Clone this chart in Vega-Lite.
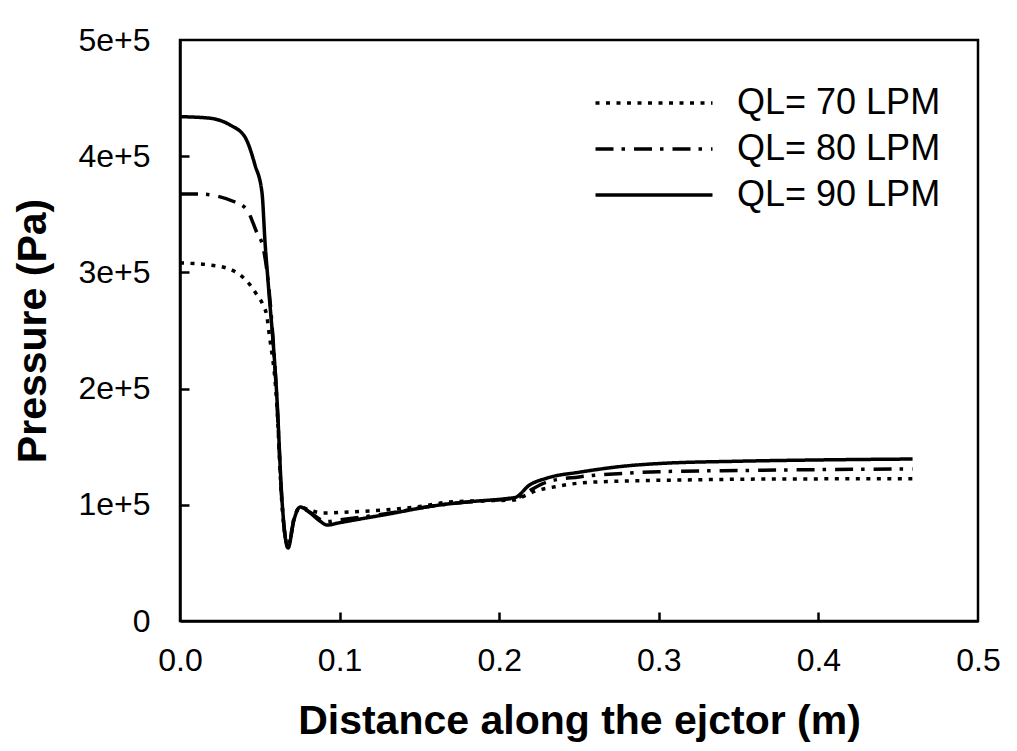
{
  "$schema": "https://vega.github.io/schema/vega-lite/v6.json",
  "width": 798,
  "height": 581,
  "autosize": {"type": "none"},
  "padding": {"left": 180, "top": 40, "right": 39, "bottom": 130},
  "background": "white",
  "config": {
    "view": {"stroke": "black", "strokeWidth": 2.5},
    "font": "Liberation Sans"
  },
  "data": {
    "values": [
      {"series": "QL= 90 LPM", "x": 0.0, "y": 434000},
      {"series": "QL= 90 LPM", "x": 0.0175, "y": 432900},
      {"series": "QL= 90 LPM", "x": 0.0313, "y": 426900},
      {"series": "QL= 90 LPM", "x": 0.0407, "y": 416500},
      {"series": "QL= 90 LPM", "x": 0.047, "y": 392400},
      {"series": "QL= 90 LPM", "x": 0.0514, "y": 368300},
      {"series": "QL= 90 LPM", "x": 0.0533, "y": 325300},
      {"series": "QL= 90 LPM", "x": 0.0551, "y": 293500},
      {"series": "QL= 90 LPM", "x": 0.0608, "y": 190200},
      {"series": "QL= 90 LPM", "x": 0.0639, "y": 104100},
      {"series": "QL= 90 LPM", "x": 0.0677, "y": 62800},
      {"series": "QL= 90 LPM", "x": 0.0714, "y": 87000},
      {"series": "QL= 90 LPM", "x": 0.0752, "y": 98100},
      {"series": "QL= 90 LPM", "x": 0.0815, "y": 93000},
      {"series": "QL= 90 LPM", "x": 0.0877, "y": 86000},
      {"series": "QL= 90 LPM", "x": 0.0921, "y": 82600},
      {"series": "QL= 90 LPM", "x": 0.1, "y": 84600},
      {"series": "QL= 90 LPM", "x": 0.13, "y": 91900},
      {"series": "QL= 90 LPM", "x": 0.16, "y": 99300},
      {"series": "QL= 90 LPM", "x": 0.18, "y": 102500},
      {"series": "QL= 90 LPM", "x": 0.205, "y": 105400},
      {"series": "QL= 90 LPM", "x": 0.21, "y": 106300},
      {"series": "QL= 90 LPM", "x": 0.219, "y": 117000},
      {"series": "QL= 90 LPM", "x": 0.23, "y": 123000},
      {"series": "QL= 90 LPM", "x": 0.251, "y": 128200},
      {"series": "QL= 90 LPM", "x": 0.28, "y": 133500},
      {"series": "QL= 90 LPM", "x": 0.3, "y": 135500},
      {"series": "QL= 90 LPM", "x": 0.35, "y": 137500},
      {"series": "QL= 90 LPM", "x": 0.4, "y": 138600},
      {"series": "QL= 90 LPM", "x": 0.459, "y": 139400},

      {"series": "QL= 80 LPM", "x": 0.0, "y": 367500},
      {"series": "QL= 80 LPM", "x": 0.0113, "y": 367500},
      {"series": "QL= 80 LPM", "x": 0.0345, "y": 360600},
      {"series": "QL= 80 LPM", "x": 0.042, "y": 353700},
      {"series": "QL= 80 LPM", "x": 0.0482, "y": 334000},
      {"series": "QL= 80 LPM", "x": 0.052, "y": 322000},
      {"series": "QL= 80 LPM", "x": 0.0551, "y": 294000},
      {"series": "QL= 80 LPM", "x": 0.0607, "y": 190000},
      {"series": "QL= 80 LPM", "x": 0.0638, "y": 104000},
      {"series": "QL= 80 LPM", "x": 0.0677, "y": 63500},
      {"series": "QL= 80 LPM", "x": 0.0714, "y": 87500},
      {"series": "QL= 80 LPM", "x": 0.0752, "y": 98000},
      {"series": "QL= 80 LPM", "x": 0.0815, "y": 93500},
      {"series": "QL= 80 LPM", "x": 0.0877, "y": 87500},
      {"series": "QL= 80 LPM", "x": 0.0921, "y": 85500},
      {"series": "QL= 80 LPM", "x": 0.1, "y": 87000},
      {"series": "QL= 80 LPM", "x": 0.13, "y": 92500},
      {"series": "QL= 80 LPM", "x": 0.16, "y": 99300},
      {"series": "QL= 80 LPM", "x": 0.18, "y": 102300},
      {"series": "QL= 80 LPM", "x": 0.205, "y": 105000},
      {"series": "QL= 80 LPM", "x": 0.211, "y": 106000},
      {"series": "QL= 80 LPM", "x": 0.22, "y": 113000},
      {"series": "QL= 80 LPM", "x": 0.23, "y": 119600},
      {"series": "QL= 80 LPM", "x": 0.25, "y": 124000},
      {"series": "QL= 80 LPM", "x": 0.282, "y": 127400},
      {"series": "QL= 80 LPM", "x": 0.3, "y": 128500},
      {"series": "QL= 80 LPM", "x": 0.35, "y": 129500},
      {"series": "QL= 80 LPM", "x": 0.4, "y": 130300},
      {"series": "QL= 80 LPM", "x": 0.459, "y": 130800},

      {"series": "QL= 70 LPM", "x": 0.0, "y": 308100},
      {"series": "QL= 70 LPM", "x": 0.0188, "y": 306400},
      {"series": "QL= 70 LPM", "x": 0.0326, "y": 302000},
      {"series": "QL= 70 LPM", "x": 0.0439, "y": 289200},
      {"series": "QL= 70 LPM", "x": 0.0482, "y": 280600},
      {"series": "QL= 70 LPM", "x": 0.052, "y": 272000},
      {"series": "QL= 70 LPM", "x": 0.0545, "y": 261600},
      {"series": "QL= 70 LPM", "x": 0.0558, "y": 247900},
      {"series": "QL= 70 LPM", "x": 0.0605, "y": 190000},
      {"series": "QL= 70 LPM", "x": 0.0637, "y": 104000},
      {"series": "QL= 70 LPM", "x": 0.0677, "y": 64500},
      {"series": "QL= 70 LPM", "x": 0.0714, "y": 88000},
      {"series": "QL= 70 LPM", "x": 0.0752, "y": 98000},
      {"series": "QL= 70 LPM", "x": 0.082, "y": 95000},
      {"series": "QL= 70 LPM", "x": 0.0896, "y": 92900},
      {"series": "QL= 70 LPM", "x": 0.1065, "y": 93800},
      {"series": "QL= 70 LPM", "x": 0.127, "y": 95500},
      {"series": "QL= 70 LPM", "x": 0.148, "y": 98100},
      {"series": "QL= 70 LPM", "x": 0.169, "y": 102400},
      {"series": "QL= 70 LPM", "x": 0.19, "y": 103500},
      {"series": "QL= 70 LPM", "x": 0.209, "y": 104100},
      {"series": "QL= 70 LPM", "x": 0.213, "y": 106000},
      {"series": "QL= 70 LPM", "x": 0.222, "y": 111500},
      {"series": "QL= 70 LPM", "x": 0.235, "y": 115500},
      {"series": "QL= 70 LPM", "x": 0.251, "y": 118800},
      {"series": "QL= 70 LPM", "x": 0.28, "y": 120500},
      {"series": "QL= 70 LPM", "x": 0.313, "y": 121300},
      {"series": "QL= 70 LPM", "x": 0.35, "y": 122000},
      {"series": "QL= 70 LPM", "x": 0.4, "y": 122300},
      {"series": "QL= 70 LPM", "x": 0.459, "y": 122500}
    ]
  },
  "layer": [
    {
      "mark": {"type": "line", "color": "black", "strokeWidth": 3.5, "interpolate": "monotone"},
      "encoding": {
        "x": {
          "field": "x", "type": "quantitative",
          "scale": {"domain": [0, 0.5], "nice": false, "zero": false},
          "axis": {
            "values": [0, 0.1, 0.2, 0.3, 0.4, 0.5],
            "format": ".1f",
            "grid": false,
            "domainColor": "black", "domainWidth": 2.5,
            "ticks": false,
            "labelFont": "Liberation Sans", "labelFontSize": 32, "labelColor": "black",
            "labelPadding": 24, "labelFlush": false,
            "title": "Distance along the ejctor (m)",
            "titleFont": "Liberation Sans", "titleFontSize": 41, "titleFontWeight": "bold",
            "titleColor": "black", "titlePadding": 25
          }
        },
        "y": {
          "field": "y", "type": "quantitative",
          "scale": {"domain": [0, 500000], "nice": false},
          "axis": {
            "values": [0, 100000, 200000, 300000, 400000, 500000],
            "labelExpr": "datum.value == 0 ? '0' : (datum.value / 100000) + 'e+5'",
            "grid": false,
            "domainColor": "black", "domainWidth": 2.5,
            "ticks": false,
            "labelFont": "Liberation Sans", "labelFontSize": 32, "labelColor": "black",
            "labelPadding": 30, "labelFlush": false,
            "title": "Pressure (Pa)",
            "titleFont": "Liberation Sans", "titleFontSize": 41, "titleFontWeight": "bold",
            "titleColor": "black", "titlePadding": 23
          }
        },
        "strokeDash": {
          "field": "series", "type": "nominal",
          "scale": {
            "domain": ["QL= 70 LPM", "QL= 80 LPM", "QL= 90 LPM"],
            "range": [[4, 6.5], [18, 8, 3.5, 9], [1, 0]]
          },
          "legend": {
            "orient": "none",
            "legendX": 415,
            "legendY": 43,
            "title": null,
            "padding": 0,
            "symbolType": "M-3.25,0H3.25",
            "symbolSize": 1296,
            "symbolStrokeWidth": 3.5,
            "symbolStrokeColor": "black",
            "symbolOffset": 39,
            "labelOffset": 63,
            "labelFont": "Liberation Sans",
            "labelFontSize": 36,
            "labelColor": "black",
            "labelLimit": 400,
            "rowPadding": 8
          }
        }
      }
    },
    {
      "mark": {"type": "line", "opacity": 0},
      "encoding": {
        "x": {
          "field": "x", "type": "quantitative",
          "axis": {
            "orient": "top", "offset": -581,
            "values": [0.1, 0.2, 0.3, 0.4],
            "labels": false, "domain": false, "grid": false, "title": null,
            "ticks": true,
            "tickColor": "black", "tickWidth": 2.5, "tickSize": 9, "tickOpacity": 1
          }
        },
        "y": {
          "field": "y", "type": "quantitative",
          "axis": {
            "orient": "right", "offset": -798,
            "values": [100000, 200000, 300000, 400000],
            "labels": false, "domain": false, "grid": false, "title": null,
            "ticks": true,
            "tickColor": "black", "tickWidth": 2.5, "tickSize": 9, "tickOpacity": 1
          }
        },
        "detail": {"field": "series", "type": "nominal"}
      }
    }
  ],
  "resolve": {"axis": {"x": "independent", "y": "independent"}}
}
